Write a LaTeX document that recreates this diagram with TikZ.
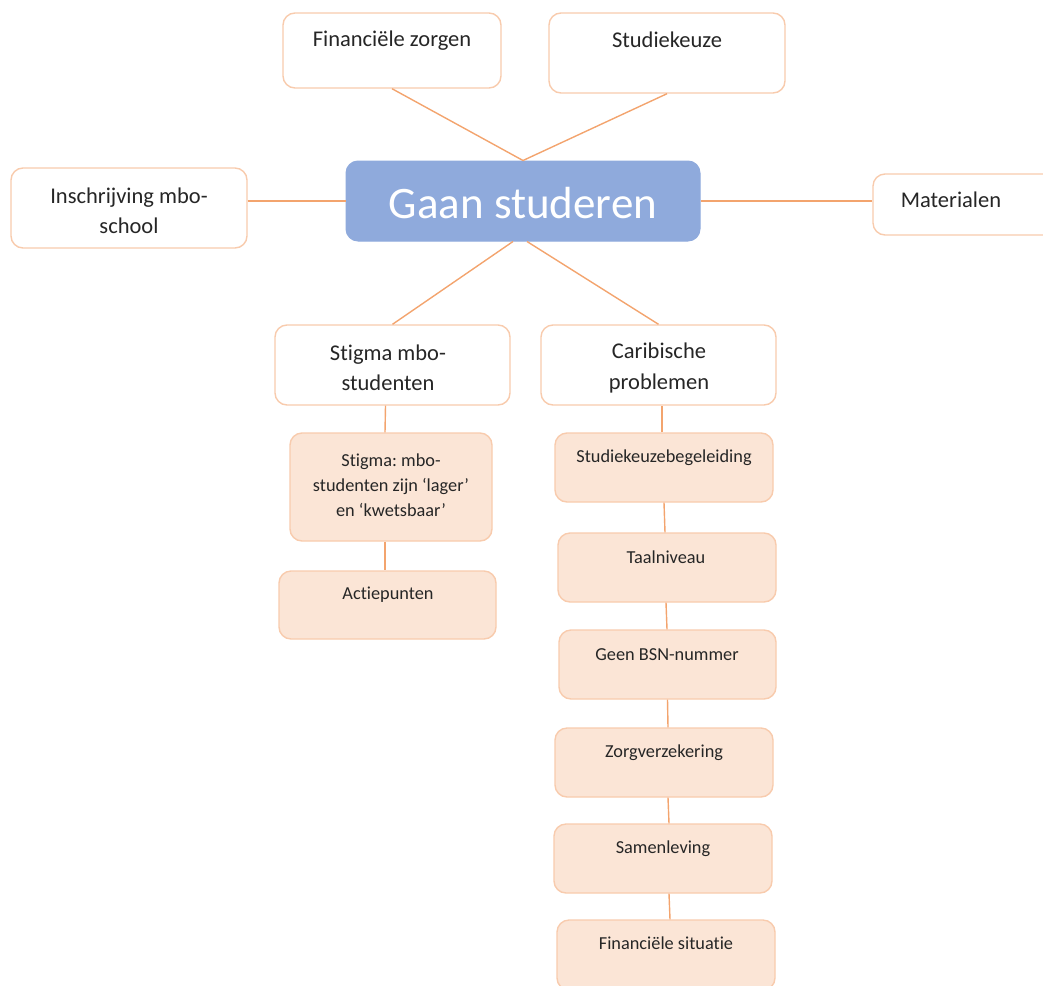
\documentclass[tikz,border=0pt]{standalone}
\usepackage{fontspec}
\setmainfont[Ligatures=NoCommon]{Carlito}
\frenchspacing
\usetikzlibrary{calc}
\definecolor{bd}{RGB}{248,203,173}
\definecolor{pf}{RGB}{251,229,214}
\definecolor{bl}{RGB}{143,170,220}
\definecolor{ln}{RGB}{243,164,110}
\definecolor{tx}{RGB}{38,38,38}
\tikzset{
  wbox/.style={draw=bd, fill=white, rounded corners=12pt, line width=1.4pt, inner sep=0pt},
  pbox/.style={draw=bd, fill=pf, rounded corners=12pt, line width=1.4pt, inner sep=0pt},
  cbox/.style={draw=bl, fill=bl, rounded corners=12pt, line width=1pt, inner sep=0pt},
  bigt/.style={text=tx, font=\fontsize{22.5}{30.5}\selectfont, align=center, inner sep=0pt},
  smlt/.style={text=tx, font=\fontsize{18.3}{25}\selectfont, align=center, inner sep=0pt},
  cen/.style={text=white, font=\fontsize{45}{50}\selectfont, inner sep=0pt},
  conn/.style={draw=ln, line width=1.4pt}
}
\begin{document}
\begin{tikzpicture}[x=1pt,y=-1pt]
\useasboundingbox (0,0) rectangle (1043,985);
\clip (0,0) rectangle (1043,985);
% boxes
\node[wbox, minimum width=218pt, minimum height=75pt] (fz) at (392,50.5) {};
\node[wbox, minimum width=236pt, minimum height=80pt] (sk) at (667,53) {};
\node[cbox, minimum width=354pt, minimum height=80pt] (c) at (523,201) {};
\node[wbox, minimum width=236pt, minimum height=80pt] (ins) at (129,208) {};
\node[wbox, minimum width=190pt, minimum height=61pt] (mat) at (968,204.5) {};
\node[wbox, minimum width=235pt, minimum height=80pt] (stg) at (392.5,365) {};
\node[wbox, minimum width=235pt, minimum height=80pt] (car) at (658.5,365) {};
\node[pbox, minimum width=202pt, minimum height=108pt] (sub1) at (391,487) {};
\node[pbox, minimum width=217pt, minimum height=68pt] (act) at (387.5,605) {};
\node[pbox, minimum width=218pt, minimum height=69pt] (r1) at (664,467.5) {};
\node[pbox, minimum width=218pt, minimum height=69pt] (r2) at (667,567.5) {};
\node[pbox, minimum width=217pt, minimum height=69pt] (r3) at (667.5,664.5) {};
\node[pbox, minimum width=218pt, minimum height=69pt] (r4) at (664,762.5) {};
\node[pbox, minimum width=218pt, minimum height=69pt] (r5) at (663,858.5) {};
\node[pbox, minimum width=218pt, minimum height=70pt] (r6) at (666,955) {};
% connectors
\draw[conn] (fz.south) -- (c.north);
\draw[conn] (sk.south) -- (c.north);
\draw[conn] (ins.east |- c.west) -- (c.west);
\draw[conn] (c.east) -- (mat.west |- c.east);
\draw[conn] ($(c.south)+(-10,0)$) -- (stg.north);
\draw[conn] ($(c.south)+(4,0)$) -- (car.north);
\draw[conn] ($(stg.south)+(-7,0)$) -- ($(sub1.north)+(-6,0)$);
\draw[conn] ($(sub1.south)+(-6,0)$) -- ($(act.north)+(-2.5,0)$);
\draw[conn] (r1.north -| car.south) ++(3.5,0) coordinate (k1) -- (k1 |- car.south);
\draw[conn] ($(r1.south)+(0,0)$) -- ($(r2.north)+(-2,0)$);
\draw[conn] ($(r2.south)+(-1,0)$) -- ($(r3.north)+(-0.5,0)$);
\draw[conn] ($(r3.south)+(0,0)$) -- ($(r4.north)+(4,0)$);
\draw[conn] ($(r4.south)+(4,0)$) -- ($(r5.north)+(6,0)$);
\draw[conn] ($(r5.south)+(6,0)$) -- ($(r6.north)+(4,0)$);
% texts
\node[bigt] (fzt) at (392,41) {Financiële zorgen};
\node[bigt] (skt) at (667,40) {Studiekeuze};
\node[cen] (ct) at (523,203) {Gaan studeren};
\node[bigt] (inst) at (129,211) {Inschrijving mbo-\\school};
\node[bigt] (matt) at (951,200) {Materialen};
\node[bigt] (stgt) at (388,368) {Stigma mbo-\\studenten};
\node[bigt] (cart) at (659,368) {Caribische\\problemen};
\node[smlt] (sub1t) at (391,485) {Stigma: mbo-\\studenten zijn ‘lager’\\en ‘kwetsbaar’};
\node[smlt] (actt) at (388,595) {Actiepunten};
\node[smlt] (r1t) at (664,458) {Studiekeuzebegeleiding};
\node[smlt] (r2t) at (666,557) {Taalniveau};
\node[smlt] (r3t) at (667,655) {Geen BSN-nummer};
\node[smlt] (r4t) at (664,753) {Zorgverzekering};
\node[smlt] (r5t) at (663,849) {Samenleving};
\node[smlt] (r6t) at (666,943) {Financiële situatie};
\end{tikzpicture}
\end{document}
